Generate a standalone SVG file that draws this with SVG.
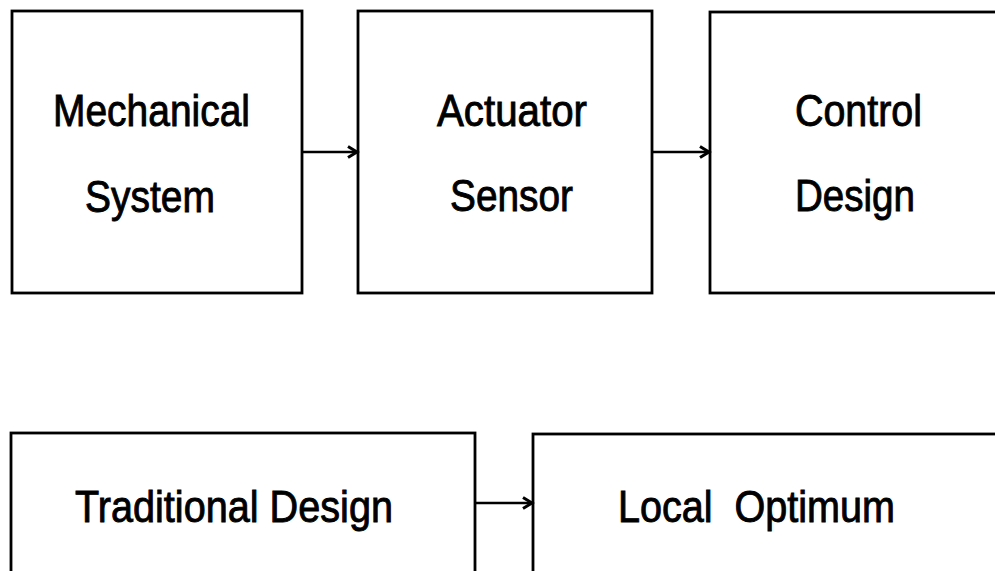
<svg xmlns="http://www.w3.org/2000/svg" width="995" height="571" viewBox="0 0 995 571">
<style>
.box{fill:#fff;stroke:#000;stroke-width:2.8}
.lbl{font-family:"Liberation Sans",Arial,sans-serif;font-size:44px;fill:#000;stroke:#000;stroke-width:0.9;white-space:pre}
.conn{stroke:#000;stroke-width:2.6;fill:none}
</style>
<defs>
<marker id="arr" markerUnits="userSpaceOnUse" markerWidth="16" markerHeight="16" refX="11" refY="7" orient="auto">
<path d="M2,1.5 L11,7 L2,12.5" fill="none" stroke="#000" stroke-width="3" stroke-linejoin="miter"/>
</marker>
</defs>
<rect width="995" height="571" fill="#fff"/>
<g id="mechanical-system">
<rect class="box" x="12" y="11" width="290" height="282"/>
<text class="lbl" x="53" y="126" textLength="197" lengthAdjust="spacingAndGlyphs">Mechanical</text>
<text class="lbl" x="85" y="212" textLength="130" lengthAdjust="spacingAndGlyphs">System</text>
</g>
<g id="actuator-sensor">
<rect class="box" x="358" y="11" width="294" height="282"/>
<text class="lbl" x="437" y="126" textLength="150" lengthAdjust="spacingAndGlyphs">Actuator</text>
<text class="lbl" x="450" y="211" textLength="123" lengthAdjust="spacingAndGlyphs">Sensor</text>
</g>
<g id="control-design">
<rect class="box" x="710" y="12" width="300" height="281"/>
<text class="lbl" x="795" y="126" textLength="127" lengthAdjust="spacingAndGlyphs">Control</text>
<text class="lbl" x="795" y="211" textLength="120" lengthAdjust="spacingAndGlyphs">Design</text>
</g>
<g id="traditional-design">
<rect class="box" x="11" y="433" width="464" height="160"/>
<text class="lbl" x="75" y="522" textLength="318" lengthAdjust="spacingAndGlyphs">Traditional Design</text>
</g>
<g id="local-optimum">
<rect class="box" x="533" y="434" width="480" height="160"/>
<text class="lbl" x="618" y="522" textLength="277" lengthAdjust="spacingAndGlyphs">Local  Optimum</text>
</g>
<g id="connectors">
<line class="conn" x1="302" y1="152" x2="357" y2="152" marker-end="url(#arr)"/>
<line class="conn" x1="652" y1="152" x2="709" y2="152" marker-end="url(#arr)"/>
<line class="conn" x1="475" y1="503" x2="532" y2="503" marker-end="url(#arr)"/>
</g>
</svg>
